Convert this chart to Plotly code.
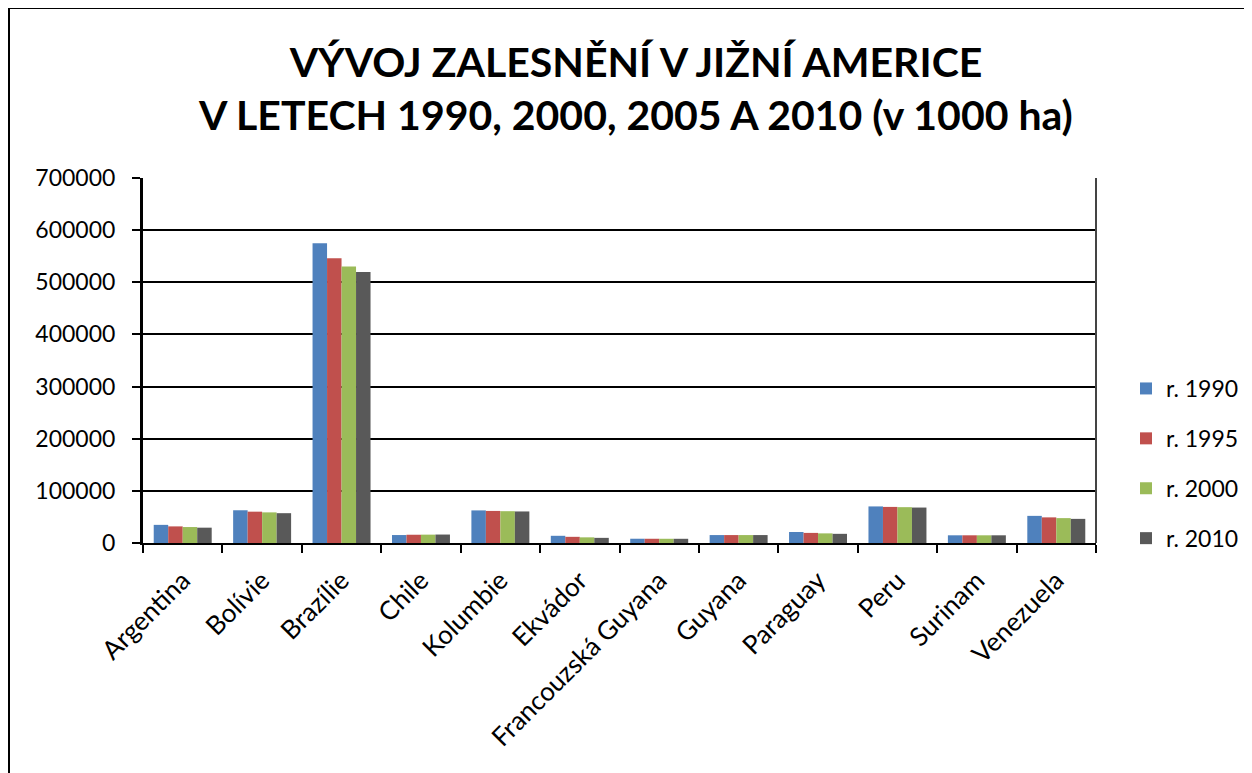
import plotly.graph_objects as go

categories = ["Argentina", "Bolívie", "Brazílie", "Chile", "Kolumbie", "Ekvádor",
              "Francouzská Guyana", "Guyana", "Paraguay", "Peru", "Surinam", "Venezuela"]
series_names = ["r. 1990", "r. 1995", "r. 2000", "r. 2010"]
v1990 = [34793, 62795, 574839, 15263, 62519, 13817, 8188, 15205, 21157, 70156, 14776, 52026]
v1995 = [31861, 60091, 545943, 15834, 61509, 11841, 8136, 15205, 19368, 69213, 14776, 49151]
v2000 = [30599, 58734, 530494, 16042, 61004, 10853, 8111, 15205, 18475, 68742, 14776, 47713]
v2010 = [29400, 57196, 519522, 16231, 60499, 9865, 8082, 15205, 17582, 67992, 14758, 46275]
colors = ["#4F81BD", "#C0504D", "#9BBB59", "#595959"]
y_ticks = [0, 100000, 200000, 300000, 400000, 500000, 600000, 700000]

# page body has an 8px margin; figure fills the rest of the window
OFF = 8
W, H = 1252 - OFF, 773 - OFF
L, R, T, B = 143 - OFF, W - (1096 - OFF), 178 - OFF, H - (543 - OFF)
pw, ph = W - L - R, H - T - B

FONT = "Lato"

fig = go.Figure()
for i, (name, vals) in enumerate(zip(series_names, [v1990, v1995, v2000, v2010])):
    fig.add_trace(go.Bar(x=categories, y=vals, name=name, marker_color=colors[i],
                         marker_line_width=0, legendgroup=name))

fig.update_layout(
    width=W, height=H,
    margin=dict(l=L, r=R, t=T, b=B, autoexpand=False),
    paper_bgcolor="white", plot_bgcolor="white",
    barmode="group", bargap=0.27, bargroupgap=0,
    font=dict(family=FONT, size=22, color="black"),
    title=dict(text="VÝVOJ ZALESNĚNÍ V JIŽNÍ AMERICE<br>V LETECH 1990, 2000, 2005 A 2010 (v 1000 ha)",
               font=dict(family=FONT, size=41, color="black", weight="bold"),
               x=(636 - OFF) / W, xanchor="center", y=1 - 69 / H, yanchor="middle", yref="container"),
    legend=dict(x=(1126 - 143) / pw, xanchor="left", y=(543 - 367) / ph, yanchor="top",
                font=dict(family=FONT, size=23), tracegroupgap=17, bgcolor="rgba(0,0,0,0)"),
    showlegend=True,
)
fig.update_xaxes(showline=True, linecolor="black", linewidth=2, ticks="outside",
                 tickson="boundaries", ticklen=8, tickwidth=2, tickcolor="black",
                 tickangle=-45, showgrid=False, tickfont=dict(size=26), ticklabelstandoff=10)
fig.update_yaxes(range=[0, 700000], tickvals=y_ticks, tickformat="d",
                 showline=True, linecolor="black", linewidth=3, mirror=False,
                 ticks="outside", ticklen=8, tickwidth=2, tickcolor="black",
                 showgrid=True, gridcolor="black", gridwidth=2, zeroline=False,
                 ticklabelstandoff=12, tickfont=dict(size=23))

# right edge of plot area
fig.add_shape(type="line", xref="paper", yref="paper", x0=1, x1=1, y0=0, y1=1,
              line=dict(color="#444444", width=2))

# outer chart border (left and top edges visible)
fig.add_shape(type="rect", xref="paper", yref="paper",
              x0=(1 - L) / pw, x1=(W + 20 - L) / pw,
              y0=(H - B - (H + 20)) / ph, y1=(H - B - 0) / ph,
              line=dict(color="black", width=2), fillcolor="rgba(0,0,0,0)", layer="above")

fig.write_html("out.html")
